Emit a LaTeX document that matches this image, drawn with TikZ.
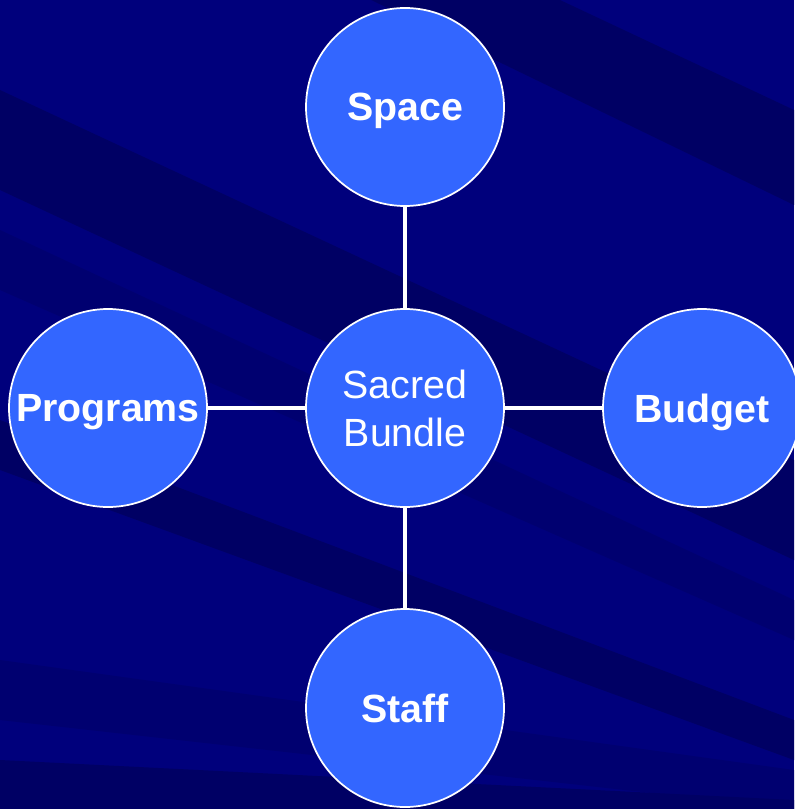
\documentclass[tikz,border=0pt]{standalone}
\usepackage{fontspec}
\setmainfont{Liberation Sans}
\usetikzlibrary{positioning}
\definecolor{bgblue}{RGB}{0,0,124}
\definecolor{bgdark}{RGB}{0,0,100}
\definecolor{bgmid}{RGB}{0,0,112}
\definecolor{ballblue}{RGB}{51,102,255}
\tikzset{
    ball/.style={draw=white,line width=1.3pt,fill=ballblue,circle,minimum size=148.5pt,inner sep=0pt,align=center,text=white},
    tag/.style={font=\fontsize{29.5}{36}\selectfont\bfseries,text depth=0pt},
    link/.style={-,draw=white,line width=3.6pt},
}

\begin{document}
\begin{tikzpicture}[x=0.75pt,y=-0.75pt, every node/.style={font=\fontsize{29.5}{36}\selectfont}]
% --- Background ---
                \useasboundingbox (0,0) rectangle (794,809);
                \fill[bgblue] (0,0) rectangle (794,809);
                \fill[bgdark] (0,0) -- (560,0) -- (794,110) -- (794,205) -- (0,-180) -- cycle;
                \fill[bgdark] (0,90) -- (794,460) -- (794,560) -- (0,190) -- cycle;
                \fill[bgmid] (0,230) -- (794,600) -- (794,640) -- (0,290) -- cycle;
                \fill[bgdark] (0,420) -- (794,720) -- (794,760) -- (0,470) -- cycle;
                \fill[bgmid] (0,660) -- (794,770) -- (794,809) -- (0,720) -- cycle;
                \fill[bgdark] (0,760) -- (794,800) -- (794,809) -- (0,809) -- cycle;
% --- Circles ---
                \node[ball] (bundle) at (405,408) {Sacred\\Bundle};
                \node[ball,tag] (space) at (405,107) {Space};
                \node[ball,tag] (programs) at (108,408) {Programs};
                \node[ball,tag] (budget) at (702,408) {Budget};
                \node[ball,tag] (staff) at (405,708) {Staff};
% --- Links ---
                \draw[link] (bundle) -- (space);
                \draw[link] (bundle) -- (programs);
                \draw[link] (bundle) -- (budget);
                \draw[link] (bundle) -- (staff);
\end{tikzpicture}
\end{document}
